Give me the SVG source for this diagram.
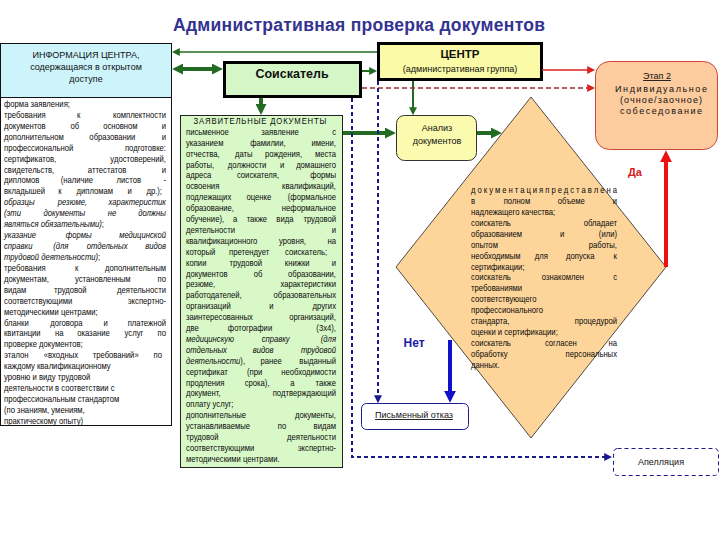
<svg xmlns="http://www.w3.org/2000/svg" width="720" height="540" viewBox="0 0 720 540">
<defs>
<style>
.t{font-family:"Liberation Sans",Arial,sans-serif;font-size:9px;fill:#111}
.n{font-family:"Liberation Sans",Arial,sans-serif;font-size:9.6px;fill:#0a0a0a}
.i{font-style:italic}
.ttl{font-family:"Liberation Sans",Arial,sans-serif;font-size:17.5px;font-weight:bold;fill:#333390}
.b{font-family:"Liberation Sans",Arial,sans-serif;font-weight:bold}
.g{stroke:#236b23;fill:none}
.rd{stroke:#dd2020;fill:none}
.bl{stroke:#1a1a8c;fill:none}
</style>
<marker id="gL" viewBox="0 0 10 10" refX="1" refY="5" markerWidth="11" markerHeight="11" markerUnits="userSpaceOnUse" orient="auto-start-reverse"><path d="M0,0 L10,5 L0,10 z" fill="#236b23"/></marker>
<marker id="gS" viewBox="0 0 10 10" refX="1" refY="5" markerWidth="8" markerHeight="8" markerUnits="userSpaceOnUse" orient="auto-start-reverse"><path d="M0,0 L10,5 L0,10 z" fill="#236b23"/></marker>
<marker id="rS" viewBox="0 0 10 10" refX="1" refY="5" markerWidth="8" markerHeight="8" markerUnits="userSpaceOnUse" orient="auto"><path d="M0,0 L10,5 L0,10 z" fill="#dd2020"/></marker>
<marker id="rL" viewBox="0 0 10 10" refX="1" refY="5" markerWidth="12" markerHeight="12" markerUnits="userSpaceOnUse" orient="auto"><path d="M0,0 L10,5 L0,10 z" fill="#ee1111"/></marker>
<marker id="bS" viewBox="0 0 10 10" refX="1" refY="5" markerWidth="8" markerHeight="8" markerUnits="userSpaceOnUse" orient="auto"><path d="M0,0 L10,5 L0,10 z" fill="#1a1a8c"/></marker>
<marker id="bL" viewBox="0 0 10 10" refX="1" refY="5" markerWidth="12" markerHeight="12" markerUnits="userSpaceOnUse" orient="auto"><path d="M0,0 L10,5 L0,10 z" fill="#1111cc"/></marker>
</defs>
<rect width="720" height="540" fill="#fff"/>

<g id="title">
<text class="ttl" x="359" y="31" text-anchor="middle" textLength="372">Административная проверка документов</text>
</g>

<g id="info">
<rect x="0.5" y="43.5" width="171" height="54" fill="#cdf3fb" stroke="#111"/>
<text class="t" x="86" y="58" text-anchor="middle">ИНФОРМАЦИЯ ЦЕНТРА,</text>
<text class="t" x="86" y="70" text-anchor="middle">содержащаяся в открытом</text>
<text class="t" x="86" y="82" text-anchor="middle">доступе</text>
<rect x="0.5" y="97.5" width="171" height="328" fill="#fff" stroke="#111"/>
<g transform="translate(4,0) scale(0.8,1)">
<text class="n" x="0" y="107">форма заявления;</text>
<text class="n" y="117.9"><tspan x="0">требования</tspan><tspan x="93.4" text-anchor="middle">к</tspan><tspan x="202.5" text-anchor="end">комплектности</tspan></text>
<text class="n" y="128.9"><tspan x="0">документов</tspan><tspan x="88.5" text-anchor="middle">об</tspan><tspan x="145.5" text-anchor="middle">основном</tspan><tspan x="202.5" text-anchor="end">и</tspan></text>
<text class="n" y="139.8"><tspan x="0">дополнительном</tspan><tspan x="135.4" text-anchor="middle">образовании</tspan><tspan x="202.5" text-anchor="end">и</tspan></text>
<text class="n" y="150.7"><tspan x="0">профессиональной</tspan><tspan x="202.5" text-anchor="end">подготовке:</tspan></text>
<text class="n" y="161.7"><tspan x="0">сертификатов,</tspan><tspan x="202.5" text-anchor="end">удостоверений,</tspan></text>
<text class="n" y="172.6"><tspan x="0">свидетельств,</tspan><tspan x="128.8" text-anchor="middle">аттестатов</tspan><tspan x="202.5" text-anchor="end">и</tspan></text>
<text class="n" y="183.5"><tspan x="0">дипломов</tspan><tspan x="91.1" text-anchor="middle">(наличие</tspan><tspan x="156" text-anchor="middle">листов</tspan><tspan x="202.5" text-anchor="end">-</tspan></text>
<text class="n" y="194.4"><tspan x="0">вкладышей</tspan><tspan x="69.9" text-anchor="middle">к</tspan><tspan x="113.5" text-anchor="middle">дипломам</tspan><tspan x="157.1" text-anchor="middle">и</tspan><tspan x="197.5" text-anchor="end">др.);</tspan></text>
<text class="n i" y="205.4"><tspan x="0">образцы</tspan><tspan x="85.5" text-anchor="middle">резюме,</tspan><tspan x="202.5" text-anchor="end">характеристик</tspan></text>
<text class="n i" y="216.3"><tspan x="0">(эти</tspan><tspan x="75.4" text-anchor="middle">документы</tspan><tspan x="135" text-anchor="middle">не</tspan><tspan x="202.5" text-anchor="end">должны</tspan></text>
<text class="n" x="0" y="227.2"><tspan class="i">являться обязательными)</tspan>;</text>
<text class="n i" y="238.2"><tspan x="0">указание</tspan><tspan x="93.4" text-anchor="middle">формы</tspan><tspan x="202.5" text-anchor="end">медицинской</tspan></text>
<text class="n i" y="249.1"><tspan x="0">справки</tspan><tspan x="71" text-anchor="middle">(для</tspan><tspan x="128.9" text-anchor="middle">отдельных</tspan><tspan x="202.5" text-anchor="end">видов</tspan></text>
<text class="n" x="0" y="260"><tspan class="i">трудовой деятельности)</tspan>;</text>
<text class="n" y="271"><tspan x="0">требования</tspan><tspan x="90.8" text-anchor="middle">к</tspan><tspan x="202.5" text-anchor="end">дополнительным</tspan></text>
<text class="n" y="281.9"><tspan x="0">документам,</tspan><tspan x="123.5" text-anchor="middle">установленным</tspan><tspan x="202.5" text-anchor="end">по</tspan></text>
<text class="n" y="292.8"><tspan x="0">видам</tspan><tspan x="82.9" text-anchor="middle">трудовой</tspan><tspan x="202.5" text-anchor="end">деятельности</tspan></text>
<text class="n" y="303.7"><tspan x="0">соответствующими</tspan><tspan x="202.5" text-anchor="end">экспертно-</tspan></text>
<text class="n" x="0" y="314.7">методическими центрами;</text>
<text class="n" y="325.6"><tspan x="0">бланки</tspan><tspan x="78" text-anchor="middle">договора</tspan><tspan x="127.1" text-anchor="middle">и</tspan><tspan x="202.5" text-anchor="end">платежной</tspan></text>
<text class="n" y="336.5"><tspan x="0">квитанции</tspan><tspan x="69" text-anchor="middle">на</tspan><tspan x="111.8" text-anchor="middle">оказание</tspan><tspan x="162.4" text-anchor="middle">услуг</tspan><tspan x="202.5" text-anchor="end">по</tspan></text>
<text class="n" x="0" y="347.5">проверке документов;</text>
<text class="n" y="358.4"><tspan x="0">эталон</tspan><tspan x="71.1" text-anchor="middle">«входных</tspan><tspan x="139.6" text-anchor="middle">требований»</tspan><tspan x="197.5" text-anchor="end">по</tspan></text>
<text class="n" x="0" y="369.3">каждому квалификационному</text>
<text class="n" x="0" y="380.2">уровню и виду трудовой</text>
<text class="n" x="0" y="391.2">деятельности в соответствии с</text>
<text class="n" x="0" y="402.1">профессиональным стандартом</text>
<text class="n" x="0" y="413">(по знаниям, умениям,</text>
<text class="n" x="0" y="424">практическому опыту)</text>
</g>
</g>

<g id="soiskatel">
<rect x="224.5" y="62.5" width="136" height="34" fill="#d5f7c8" stroke="#000" stroke-width="3"/>
<text class="b" x="292" y="78" text-anchor="middle" font-size="12.5" fill="#111">Соискатель</text>
</g>

<g id="centr">
<rect x="378.5" y="43.5" width="163" height="36" fill="#fbfaa6" stroke="#000" stroke-width="3"/>
<text class="b" x="460" y="58" text-anchor="middle" font-size="11.5" fill="#111">ЦЕНТР</text>
<text class="t" x="460" y="72" text-anchor="middle" font-size="9.2">(административная группа)</text>
</g>

<g id="zayav">
<rect x="180.5" y="115.5" width="162" height="352" fill="#d8f8c8" stroke="#222"/>
<g transform="translate(186,0) scale(0.8,1)">
<text class="n" x="92.5" y="124" text-anchor="middle" textLength="166">ЗАЯВИТЕЛЬНЫЕ ДОКУМЕНТЫ</text>
<text class="n" y="134.9"><tspan x="0">письменное</tspan><tspan x="117.5" text-anchor="middle">заявление</tspan><tspan x="187.5" text-anchor="end">с</tspan></text>
<text class="n" y="145.8"><tspan x="0">указанием</tspan><tspan x="102.4" text-anchor="middle">фамилии,</tspan><tspan x="187.5" text-anchor="end">имени,</tspan></text>
<text class="n" y="156.7"><tspan x="0">отчества,</tspan><tspan x="72.3" text-anchor="middle">даты</tspan><tspan x="122" text-anchor="middle">рождения,</tspan><tspan x="187.5" text-anchor="end">места</tspan></text>
<text class="n" y="167.6"><tspan x="0">работы,</tspan><tspan x="76.3" text-anchor="middle">должности</tspan><tspan x="120.1" text-anchor="middle">и</tspan><tspan x="187.5" text-anchor="end">домашнего</tspan></text>
<text class="n" y="178.5"><tspan x="0">адреса</tspan><tspan x="90" text-anchor="middle">соискателя,</tspan><tspan x="187.5" text-anchor="end">формы</tspan></text>
<text class="n" y="189.4"><tspan x="0">освоения</tspan><tspan x="187.5" text-anchor="end">квалификаций,</tspan></text>
<text class="n" y="200.3"><tspan x="0">подлежащих</tspan><tspan x="91.1" text-anchor="middle">оценке</tspan><tspan x="187.5" text-anchor="end">(формальное</tspan></text>
<text class="n" y="211.2"><tspan x="0">образование,</tspan><tspan x="187.5" text-anchor="end">неформальное</tspan></text>
<text class="n" y="222.1"><tspan x="0">обучение),</tspan><tspan x="61.5" text-anchor="middle">а</tspan><tspan x="88.6" text-anchor="middle">также</tspan><tspan x="123.6" text-anchor="middle">вида</tspan><tspan x="187.5" text-anchor="end">трудовой</tspan></text>
<text class="n" y="233"><tspan x="0">деятельности</tspan><tspan x="187.5" text-anchor="end">и</tspan></text>
<text class="n" y="243.9"><tspan x="0">квалификационного</tspan><tspan x="133.1" text-anchor="middle">уровня,</tspan><tspan x="187.5" text-anchor="end">на</tspan></text>
<text class="n" y="254.8"><tspan x="0">который</tspan><tspan x="79" text-anchor="middle">претендует</tspan><tspan x="176.3" text-anchor="end">соискатель;</tspan></text>
<text class="n" y="265.7"><tspan x="0">копии</tspan><tspan x="74.8" text-anchor="middle">трудовой</tspan><tspan x="139" text-anchor="middle">книжки</tspan><tspan x="187.5" text-anchor="end">и</tspan></text>
<text class="n" y="276.6"><tspan x="0">документов</tspan><tspan x="90" text-anchor="middle">об</tspan><tspan x="187.5" text-anchor="end">образовании,</tspan></text>
<text class="n" y="287.5"><tspan x="0">резюме,</tspan><tspan x="187.5" text-anchor="end">характеристики</tspan></text>
<text class="n" y="298.4"><tspan x="0">работодателей,</tspan><tspan x="187.5" text-anchor="end">образовательных</tspan></text>
<text class="n" y="309.3"><tspan x="0">организаций</tspan><tspan x="106.9" text-anchor="middle">и</tspan><tspan x="187.5" text-anchor="end">других</tspan></text>
<text class="n" y="320.2"><tspan x="0">заинтересованных</tspan><tspan x="187.5" text-anchor="end">организаций,</tspan></text>
<text class="n" y="331.1"><tspan x="0">две</tspan><tspan x="80" text-anchor="middle">фотографии</tspan><tspan x="187.5" text-anchor="end">(3x4),</tspan></text>
<text class="n i" y="342"><tspan x="0">медицинскую</tspan><tspan x="112.1" text-anchor="middle">справку</tspan><tspan x="187.5" text-anchor="end">(для</tspan></text>
<text class="n i" y="352.9"><tspan x="0">отдельных</tspan><tspan x="96.4" text-anchor="middle">видов</tspan><tspan x="187.5" text-anchor="end">трудовой</tspan></text>
<text class="n" y="363.8"><tspan x="0" class="i">деятельности</tspan><tspan>),</tspan><tspan x="106.5" text-anchor="middle">ранее</tspan><tspan x="187.5" text-anchor="end">выданный</tspan></text>
<text class="n" y="374.7"><tspan x="0">сертификат</tspan><tspan x="85.9" text-anchor="middle">(при</tspan><tspan x="187.5" text-anchor="end">необходимости</tspan></text>
<text class="n" y="385.6"><tspan x="0">продления</tspan><tspan x="88.9" text-anchor="middle">срока),</tspan><tspan x="133.1" text-anchor="middle">а</tspan><tspan x="187.5" text-anchor="end">также</tspan></text>
<text class="n" y="396.5"><tspan x="0">документ,</tspan><tspan x="187.5" text-anchor="end">подтверждающий</tspan></text>
<text class="n" x="0" y="407.4">оплату услуг;</text>
<text class="n" y="418.3"><tspan x="0">дополнительные</tspan><tspan x="187.5" text-anchor="end">документы,</tspan></text>
<text class="n" y="429.2"><tspan x="0">устанавливаемые</tspan><tspan x="120" text-anchor="middle">по</tspan><tspan x="187.5" text-anchor="end">видам</tspan></text>
<text class="n" y="440.1"><tspan x="0">трудовой</tspan><tspan x="187.5" text-anchor="end">деятельности</tspan></text>
<text class="n" y="451"><tspan x="0">соответствующими</tspan><tspan x="187.5" text-anchor="end">экспертно-</tspan></text>
<text class="n" x="0" y="461.9">методическими центрами.</text>
</g>
</g>

<g id="analiz">
<rect x="396.5" y="115.5" width="80" height="45" rx="8" fill="#fbfbb0" stroke="#333"/>
<text class="t" x="437" y="131" text-anchor="middle" font-size="9.5">Анализ</text>
<text class="t" x="437" y="144" text-anchor="middle" font-size="9.5">документов</text>
</g>

<g id="decision">
<polygon points="531,97 666,267 531,438 396,267" fill="#fdd59a" stroke="#222" stroke-width="0.8"/>
<g transform="translate(471,0) scale(0.8,1)">
<text class="n" x="0" y="193" textLength="182.5">документацияпредставлена</text>
<text class="n" y="203.9"><tspan x="0">в</tspan><tspan x="57.4" text-anchor="middle">полном</tspan><tspan x="125.3" text-anchor="middle">объеме</tspan><tspan x="182.5" text-anchor="end">и</tspan></text>
<text class="n" x="0" y="214.9">надлежащего качества;</text>
<text class="n" y="225.8"><tspan x="0">соискатель</tspan><tspan x="182.5" text-anchor="end">обладает</tspan></text>
<text class="n" y="236.8"><tspan x="0">образованием</tspan><tspan x="113.8" text-anchor="middle">и</tspan><tspan x="182.5" text-anchor="end">(или)</tspan></text>
<text class="n" y="247.7"><tspan x="0">опытом</tspan><tspan x="182.5" text-anchor="end">работы,</tspan></text>
<text class="n" y="258.6"><tspan x="0">необходимым</tspan><tspan x="88" text-anchor="middle">для</tspan><tspan x="136.6" text-anchor="middle">допуска</tspan><tspan x="182.5" text-anchor="end">к</tspan></text>
<text class="n" x="0" y="269.6">сертификации;</text>
<text class="n" y="280.5"><tspan x="0">соискатель</tspan><tspan x="114.9" text-anchor="middle">ознакомлен</tspan><tspan x="182.5" text-anchor="end">с</tspan></text>
<text class="n" x="0" y="291.5">требованиями</text>
<text class="n" x="0" y="302.4">соответствующего</text>
<text class="n" x="0" y="313.3">профессионального</text>
<text class="n" y="324.3"><tspan x="0">стандарта,</tspan><tspan x="182.5" text-anchor="end">процедурой</tspan></text>
<text class="n" x="0" y="335.2">оценки и сертификации;</text>
<text class="n" y="346.2"><tspan x="0">соискатель</tspan><tspan x="112.3" text-anchor="middle">согласен</tspan><tspan x="182.5" text-anchor="end">на</tspan></text>
<text class="n" y="357.1"><tspan x="0">обработку</tspan><tspan x="182.5" text-anchor="end">персональных</tspan></text>
<text class="n" x="0" y="368">данных.</text>
</g>
</g>

<g id="etap2">
<rect x="595.5" y="61.5" width="122" height="88" rx="14" fill="#fccb9e" stroke="#d0453a"/>
<text class="t" x="657" y="79" text-anchor="middle" font-size="9" fill="#3a2a1a" text-decoration="underline">Этап 2</text>
<text class="t" x="661" y="92" text-anchor="middle" font-size="9" fill="#c8281e" textLength="92">Индивидуальное</text>
<text class="t" x="661" y="103" text-anchor="middle" font-size="9" fill="#c8281e" textLength="82">(очное/заочное)</text>
<text class="t" x="661" y="114" text-anchor="middle" font-size="9" fill="#c8281e" textLength="82">собеседование</text>
</g>

<g id="otkaz">
<rect x="361.5" y="403.5" width="107" height="26" rx="5" fill="#fff" stroke="#1a1a8c"/>
<text class="t" x="414" y="418" text-anchor="middle" font-size="9.5" fill="#101070" text-decoration="underline">Письменный отказ</text>
</g>

<g id="apellyaciya">
<rect x="613.5" y="448.5" width="105" height="27" rx="4" fill="#fff" stroke="#1a1a8c" stroke-dasharray="4,3"/>
<text class="t" x="661" y="465" text-anchor="middle" font-size="9.5" fill="#101070">Апелляция</text>
</g>

<g id="connectors">
<line class="g" x1="377" y1="52" x2="179" y2="52" stroke-width="1.5" marker-end="url(#gS)"/>
<line class="g" x1="182" y1="69" x2="213" y2="69" stroke-width="4" marker-start="url(#gL)" marker-end="url(#gL)"/>
<line class="g" x1="362" y1="71" x2="370" y2="71" stroke-width="2" marker-end="url(#gS)"/>
<line class="g" x1="261" y1="98" x2="261" y2="105" stroke-width="4" marker-end="url(#gL)"/>
<line class="g" x1="343" y1="133" x2="386" y2="133" stroke-width="4" marker-end="url(#gL)"/>
<line class="g" x1="413" y1="81" x2="413" y2="108" stroke-width="2" marker-end="url(#gS)"/>
<line class="g" x1="477" y1="133" x2="492" y2="133" stroke-width="4" marker-end="url(#gL)"/>
<line x1="362" y1="88" x2="588" y2="88" stroke="#a0303a" stroke-width="1.5" stroke-dasharray="5,3" marker-end="url(#rS)"/>
<line class="rd" x1="542" y1="70" x2="588" y2="70" stroke-width="1.5" marker-end="url(#rS)"/>
<line x1="666" y1="267" x2="666" y2="161" stroke="#ee1111" stroke-width="4" marker-end="url(#rL)"/>
<polyline class="bl" points="352,98 352,457 605,457" stroke-width="2" stroke-dasharray="4,3" marker-end="url(#bS)"/>
<line class="bl" x1="378" y1="81" x2="378" y2="396" stroke-width="2" stroke-dasharray="4,3" marker-end="url(#bS)"/>
<line x1="450" y1="340" x2="450" y2="392" stroke="#1111cc" stroke-width="4" marker-end="url(#bL)"/>
<text class="b" x="635" y="176" text-anchor="middle" font-size="11" fill="#d42020">Да</text>
<text class="b" x="414" y="347" text-anchor="middle" font-size="12" fill="#1a1aa6">Нет</text>
</g>
</svg>
